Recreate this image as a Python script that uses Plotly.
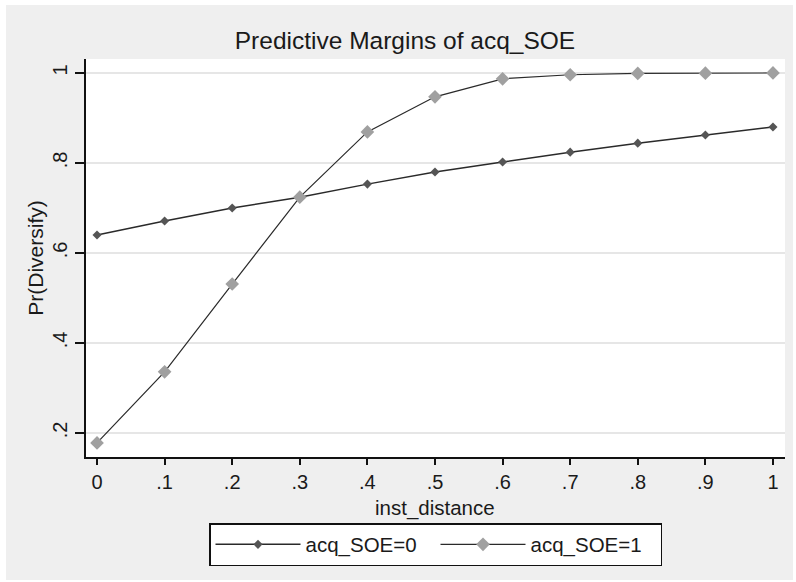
import plotly.graph_objects as go

inst_distance = [0, 0.1, 0.2, 0.3, 0.4, 0.5, 0.6, 0.7, 0.8, 0.9, 1.0]
soe0 = [0.640, 0.671, 0.700, 0.724, 0.753, 0.780, 0.802, 0.824, 0.844, 0.862, 0.880]
soe1 = [0.178, 0.336, 0.531, 0.724, 0.869, 0.947, 0.987, 0.996, 0.999, 0.9995, 1.0]
x_ticks = [0, 0.1, 0.2, 0.3, 0.4, 0.5, 0.6, 0.7, 0.8, 0.9, 1.0]
x_labels = ["0", ".1", ".2", ".3", ".4", ".5", ".6", ".7", ".8", ".9", "1"]
y_ticks = [0.2, 0.4, 0.6, 0.8, 1.0]
y_labels = [".2", ".4", ".6", ".8", "1"]

FONT = "Liberation Sans, Arial, sans-serif"
TXT = "#1a1a1a"

fig = go.Figure()
fig.add_trace(go.Scatter(
    x=inst_distance, y=soe0, mode="lines+markers", name="acq_SOE=0",
    line=dict(color="#2a2a2a", width=1.5),
    marker=dict(symbol="diamond", size=7, color="#555555"),
))
fig.add_trace(go.Scatter(
    x=inst_distance, y=soe1, mode="lines+markers", name="acq_SOE=1",
    line=dict(color="#2a2a2a", width=1.2),
    marker=dict(symbol="diamond", size=10.5, color="#a0a0a0"),
))

L, R, T, B = 86, 11, 59, 125
W, H = 796, 582
pw, ph = W - L - R, H - T - B

fig.update_layout(
    width=W, height=H,
    margin=dict(l=L, r=R, t=T, b=B, autoexpand=False),
    paper_bgcolor="white",
    plot_bgcolor="white",
    font=dict(family=FONT, size=20, color=TXT),
    title=dict(text="Predictive Margins of acq_SOE", x=(405) / W, xanchor="center",
               yref="container", y=1 - 40 / H, yanchor="middle",
               font=dict(family=FONT, size=24.5, color=TXT)),
    showlegend=True,
    legend=dict(orientation="h", x=0.5, xanchor="center",
                yref="container", y=1 - 523 / H, yanchor="top",
                bgcolor="white", bordercolor="#111111", borderwidth=1.5,
                font=dict(family=FONT, size=20.5, color=TXT),
                entrywidth=125, itemwidth=85),
    shapes=[
        dict(type="rect", xref="paper", yref="paper",
             x0=(6 - L) / pw, x1=(793 - L) / pw,
             y0=(T + ph - 580) / ph, y1=(T + ph - 5) / ph,
             fillcolor="#efefef", line=dict(width=0), layer="below"),
        dict(type="rect", xref="paper", yref="paper", x0=0, x1=1, y0=0, y1=1,
             fillcolor="white", line=dict(width=0), layer="below"),
    ],
    annotations=[
        dict(text="inst_distance", xref="paper", yref="paper",
             x=(435 - L) / pw, y=(T + ph - 508) / ph,
             xanchor="center", yanchor="middle", showarrow=False,
             font=dict(family=FONT, size=20.5, color=TXT)),
    ],
)
fig.update_xaxes(
    range=[-0.0163, 1.0178], tickvals=x_ticks, ticktext=x_labels, automargin=False,
    showgrid=False, zeroline=False, showline=True, linecolor="#111111", linewidth=2,
    ticks="outside", ticklen=6, tickwidth=1.5, tickcolor="#111111",
)
fig.update_yaxes(
    range=[0.1467, 1.031], tickvals=y_ticks, ticktext=y_labels, tickangle=-90,
    automargin=False,
    showgrid=True, gridcolor="#e6e6e6", gridwidth=1.5,
    zeroline=False, showline=True, linecolor="#111111", linewidth=2,
    ticks="outside", ticklen=9, tickwidth=1.5, tickcolor="#111111",
    title=dict(text="Pr(Diversify)", standoff=0, font=dict(size=21)),
)

fig.write_html("out.html", config={"displayModeBar": False},
               post_script="document.body.style.margin='0';")
